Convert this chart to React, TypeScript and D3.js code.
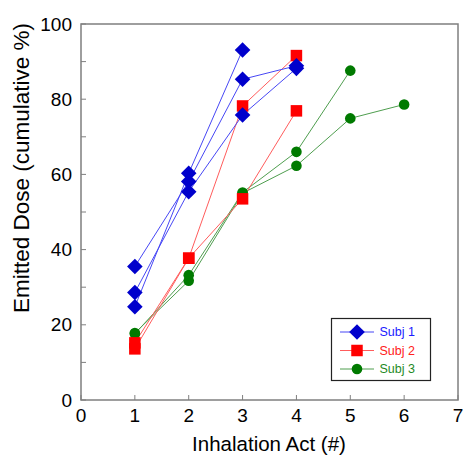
import React, { useEffect, useRef } from 'react';
import * as d3 from 'd3';

// axis ticks
const xTicks = [0, 1, 2, 3, 4, 5, 6, 7];
const yTicks = [0, 20, 40, 60, 80, 100];
const yMinor = [10, 30, 50, 70, 90];

// cumulative emitted dose per inhalation act (act 1, 2, 3 ...)
const subj1A = [24.8, 60.3, 93.1];
const subj1B = [35.5, 58.1, 85.3, 88.9];
const subj1C = [28.6, 55.4, 75.8, 88.2];
const subj2A = [13.6, 37.7, 78.2, 91.6];
const subj2B = [15.2, 37.7, 53.5, 76.9];
const subj3A = [17.6, 33.2, 55.2, 66.0, 87.6];
const subj3B = [17.8, 31.7, 55.0, 62.3, 74.9, 78.6];

const legendNames = ['Subj 1', 'Subj 2', 'Subj 3'];

function App() {
  const ref = useRef<SVGSVGElement>(null);

  const width = 463;
  const height = 457;
  const margin = { top: 24, right: 5, bottom: 57, left: 81 };

  useEffect(() => {
    const svg = d3.select(ref.current);
    svg.selectAll('*').remove();

    const x = d3.scaleLinear().domain([0, 7]).range([margin.left, width - margin.right]);
    const y = d3.scaleLinear().domain([0, 100]).range([height - margin.bottom, margin.top]);

    const subjects = [
      { name: legendNames[0], shape: 'diamond', fill: '#0000cc', line: '#4747f5', text: '#1a1aff', series: [subj1A, subj1B, subj1C] },
      { name: legendNames[1], shape: 'square', fill: '#ff0000', line: '#ff5c5c', text: '#ff2020', series: [subj2A, subj2B] },
      { name: legendNames[2], shape: 'circle', fill: '#007a00', line: '#4f9e4f', text: '#1f8a1f', series: [subj3A, subj3B] },
    ];

    const font = 'Liberation Sans, Arial, sans-serif';

    function marker(g: any, shape: string, cx: number, cy: number, fill: string) {
      if (shape === 'diamond') {
        const r = 7.8;
        g.append('path')
          .attr('d', `M${cx},${cy - r}L${cx + r},${cy}L${cx},${cy + r}L${cx - r},${cy}Z`)
          .attr('fill', fill);
      } else if (shape === 'square') {
        const s = 11.5;
        g.append('rect')
          .attr('x', cx - s / 2).attr('y', cy - s / 2)
          .attr('width', s).attr('height', s)
          .attr('fill', fill);
      } else {
        g.append('circle').attr('cx', cx).attr('cy', cy).attr('r', 5.3).attr('fill', fill);
      }
    }

    // frame
    svg.append('rect')
      .attr('x', x(0)).attr('y', y(100))
      .attr('width', x(7) - x(0)).attr('height', y(0) - y(100))
      .attr('fill', 'none').attr('stroke', '#7f7f7f').attr('stroke-width', 1.5);

    // ticks (inward)
    const ax = svg.append('g').attr('stroke', '#7f7f7f').attr('stroke-width', 1);
    yTicks.concat(yMinor).forEach(v => {
      ax.append('line').attr('x1', x(0)).attr('x2', x(0) + 5).attr('y1', y(v)).attr('y2', y(v));
    });
    xTicks.forEach(v => {
      ax.append('line').attr('x1', x(v)).attr('x2', x(v)).attr('y1', y(0)).attr('y2', y(0) - 5);
    });

    svg.append('g')
      .selectAll('text')
      .data(yTicks)
      .join('text')
      .attr('x', x(0) - 9)
      .attr('y', d => y(d))
      .attr('dy', '0.35em')
      .attr('text-anchor', 'end')
      .attr('font-family', font)
      .attr('font-size', 19)
      .text(d => d);

    svg.append('g')
      .selectAll('text')
      .data(xTicks)
      .join('text')
      .attr('x', d => x(d))
      .attr('y', y(0) + 22)
      .attr('text-anchor', 'middle')
      .attr('font-family', font)
      .attr('font-size', 19)
      .text(d => d);

    svg.append('text')
      .attr('x', 269)
      .attr('y', 451)
      .attr('text-anchor', 'middle')
      .attr('font-family', font)
      .attr('font-size', 20.5)
      .text('Inhalation Act (#)');

    svg.append('text')
      .attr('transform', `translate(29,168) rotate(-90)`)
      .attr('text-anchor', 'middle')
      .attr('font-family', font)
      .attr('font-size', 22.5)
      .text('Emitted Dose (cumulative %)');

    const line = d3.line<number>().x((d, i) => x(i + 1)).y(d => y(d));

    // lines first, then markers (green under red under blue)
    const plot = svg.append('g');
    subjects.slice().reverse().forEach(s => {
      s.series.forEach(vals => {
        plot.append('path')
          .attr('d', line(vals))
          .attr('fill', 'none')
          .attr('stroke', s.line)
          .attr('stroke-width', 1);
      });
    });
    subjects.slice().reverse().forEach(s => {
      s.series.forEach(vals => {
        vals.forEach((v, i) => marker(plot, s.shape, x(i + 1), y(v), s.fill));
      });
    });

    // legend
    const lg = svg.append('g');
    lg.append('rect')
      .attr('x', 331.5).attr('y', 318.5)
      .attr('width', 99).attr('height', 62)
      .attr('fill', 'white').attr('stroke', '#222').attr('stroke-width', 1.2);
    subjects.forEach((s, i) => {
      const ly = 332 + i * 18.5;
      lg.append('line')
        .attr('x1', 340).attr('x2', 374).attr('y1', ly).attr('y2', ly)
        .attr('stroke', s.line).attr('stroke-width', 1);
      marker(lg, s.shape, 357, ly, s.fill);
      lg.append('text')
        .attr('x', 379.5).attr('y', ly)
        .attr('dy', '0.35em')
        .attr('font-family', font)
        .attr('font-size', 12.5)
        .attr('fill', s.text)
        .text(s.name);
    });
  }, []);

  return (
    <svg ref={ref} width={width} height={height}
      style={{ position: 'absolute', left: 0, top: 0, background: 'white' }} />
  );
}

export default App;
